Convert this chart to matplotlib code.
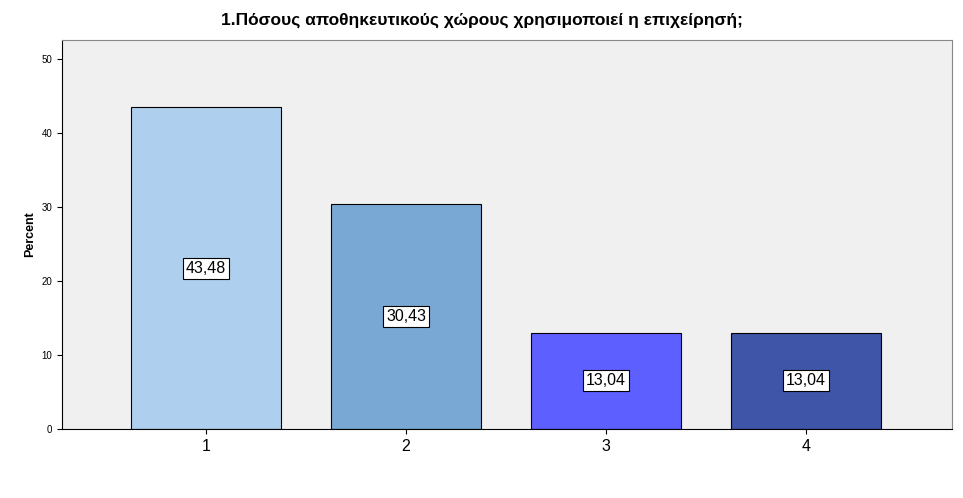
import matplotlib
matplotlib.use("Agg")
import matplotlib.pyplot as plt

plt.rcParams["font.family"] = ["Liberation Sans", "DejaVu Sans"]

# --- data ---
categories = ["1", "2", "3", "4"]
percents = [43.48, 30.43, 13.04, 13.04]
value_labels = ["43,48", "30,43", "13,04", "13,04"]
bar_colors = ["#aecfee", "#7aa8d5", "#5d5ffe", "#3e55a8"]
y_ticks = [0, 10, 20, 30, 40, 50]

fig = plt.figure(figsize=(9.63, 4.98), dpi=100)
ax = fig.add_axes([62 / 963, 69 / 498, 890 / 963, 389 / 498])
ax.set_facecolor("#f0f0f0")

x = list(range(1, len(categories) + 1))
ax.bar(x, percents, width=0.75, color=bar_colors, edgecolor="black", linewidth=0.8, zorder=2)

for xi, p, lab in zip(x, percents, value_labels):
    ax.text(xi, p / 2, lab, ha="center", va="center", fontsize=11.5,
            bbox=dict(boxstyle="square,pad=0.2", facecolor="white", edgecolor="black", linewidth=0.8),
            zorder=3)

ax.set_xlim(0.28, 4.73)
ax.set_ylim(0, 52.6)
ax.set_xticks(x)
ax.set_xticklabels(categories, fontsize=11.5)
ax.set_yticks(y_ticks)
ax.set_yticklabels([str(t) for t in y_ticks], fontsize=7)
ax.set_ylabel("Percent", fontsize=9, fontweight="bold")

for side in ["top", "right"]:
    ax.spines[side].set_color("#888888")

fig.suptitle("1.Πόσους αποθηκευτικούς χώρους χρησιμοποιεί η επιχείρησή;",
             fontsize=12.5, fontweight="bold", y=0.975)

fig.savefig("out.png", dpi=100, facecolor="white")
